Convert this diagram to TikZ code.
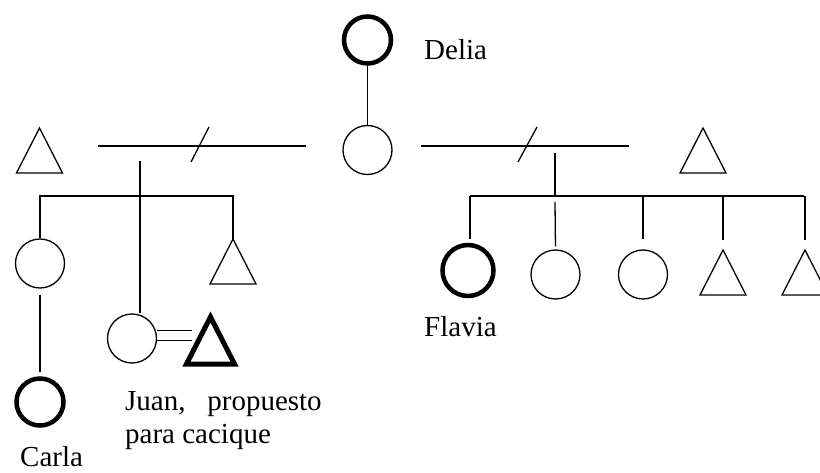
\documentclass[tikz,border=0pt]{standalone}
\usepackage{fontspec}
\setmainfont{Liberation Serif}
\usepackage{tikz}
\usetikzlibrary{shapes.geometric}
\tikzstyle{woman} = [draw=black, circle, line width=1.3pt, minimum size=49pt, inner sep=0pt]
\tikzstyle{womanhl} = [woman, line width=4.5pt, minimum size=47pt]
\tikzstyle{man} = [draw=black, isosceles triangle, isosceles triangle stretches, shape border rotate=90, line width=1.3pt, minimum width=46pt, minimum height=45pt, inner sep=0pt, outer sep=0pt, anchor=apex]
\tikzstyle{manhl} = [man, line width=5pt, minimum width=48pt, minimum height=47pt]
\tikzstyle{kin} = [draw=black, line width=1.3pt]
\tikzstyle{wedline} = [kin, double, double distance=8.7pt]
\tikzstyle{kinlabel} = [font=\fontsize{29}{33}\selectfont, inner sep=0pt, anchor=base west]

\begin{document}
\begin{tikzpicture}[x=1pt, y=-1pt]
\useasboundingbox (0,0) rectangle (820,473);
% first generation
\node [womanhl] (delia) at (367.5,40) {};
\node [kinlabel] (delianame) at (424,60) {Delia};
\node [woman] (mother) at (367.5,150) {};
\draw [kin] (delia) -- (mother);
% husbands and marriage lines
\node [man] (lhusband) at (39.5,128) {};
\node [man] (rhusband) at (703,128) {};
\coordinate (lwedA) at (98,146);
\coordinate (lwedB) at (306,146);
\coordinate (rwedA) at (421,146);
\coordinate (rwedB) at (629,146);
\draw [kin] (lwedA) -- (lwedB);
\draw [kin] (rwedA) -- (rwedB);
\draw [kin] (191,162) -- (209,127);
\draw [kin] (518,162) -- (537,127);
% children of the first marriage
\node [woman] (kidA) at (40,263.5) {};
\node [man] (kidC) at (233,239) {};
\node [woman] (wife) at (132,338.5) {};
\coordinate (ldesc) at (140,161);
\coordinate (lsib) at (140,196);
\draw [kin] (ldesc) -- (ldesc |- wife.north);
\draw [kin] (kidA.north) |- (lsib) -| (kidC.apex);
\node [womanhl] (carla) at (40,402) {};
\node [kinlabel] (carlaname) at (20,466) {Carla};
\draw [kin, shorten <=6pt, shorten >=4pt] (kidA) -- (carla);
% Juan
\node [manhl] (juan) at (210.5,317) {};
\coordinate (wedend) at (192,335.3);
\draw [wedline] (wife.east |- wedend) -- (wedend);
\node [kinlabel, align=left] (juanname) at (125,443) {Juan,\ \ \ propuesto\\para cacique};
% children of the second marriage
\node [womanhl, minimum size=51pt] (flavia) at (468,270.5) {};
\node [kinlabel] (flavianame) at (424,337) {Flavia};
\node [woman] (kidE) at (555.5,274.5) {};
\node [woman] (kidF) at (643,274.5) {};
\node [man] (kidG) at (723,250) {};
\node [man] (kidH) at (805,250) {};
\coordinate (rdesc) at (555,153);
\coordinate (rsib) at (555,196);
\coordinate (rsibL) at (470,196);
\coordinate (rsibR) at (804,196);
\draw [kin] (rdesc) -- (rsib);
\draw [kin] (rsibL) -- (rsibR);
\draw [kin, shorten >=4pt] (rsibL) -- (rsibL |- flavia.north);
\draw [kin, shorten >=3pt] (555,202) -- (kidE.north);
\draw [kin, shorten >=10pt] (kidF.north |- rsib) -- (kidF.north);
\draw [kin, shorten >=10pt] (kidG.apex |- rsib) -- (kidG.apex);
\draw [kin, shorten >=10pt] (kidH.apex |- rsib) -- (kidH.apex);
\end{tikzpicture}
\end{document}
